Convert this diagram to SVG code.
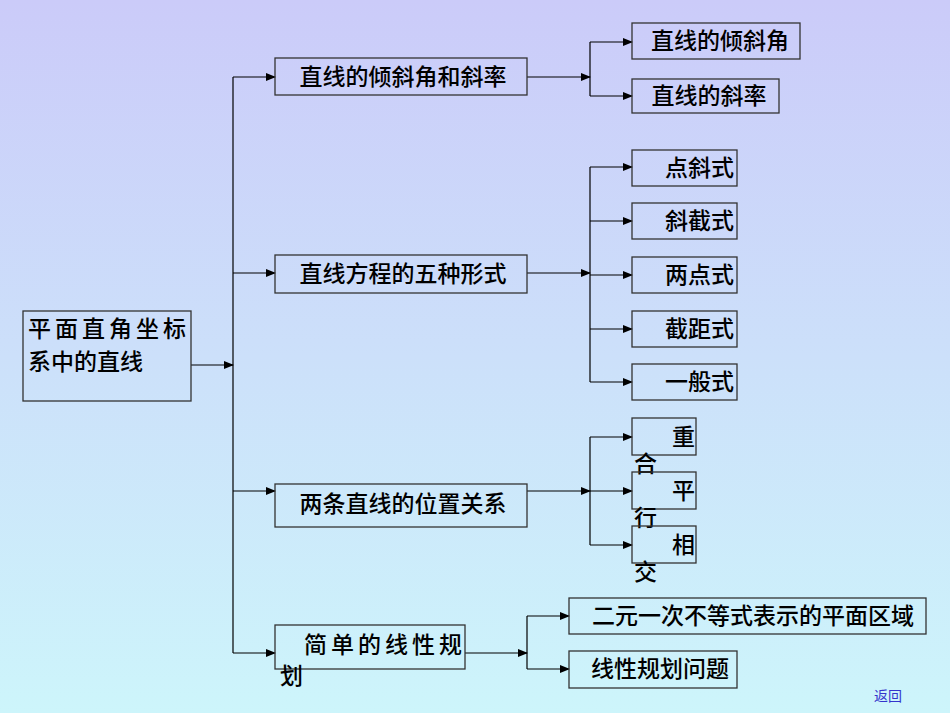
<svg xmlns="http://www.w3.org/2000/svg" width="950" height="713" viewBox="0 0 950 713">
<defs>
<linearGradient id="bg" x1="0" y1="0" x2="0" y2="1"><stop offset="0" stop-color="#cbcbf9"/><stop offset="1" stop-color="#cdf5fb"/></linearGradient>
<marker id="a" markerWidth="10" markerHeight="8" refX="9" refY="4" orient="auto" markerUnits="userSpaceOnUse"><path d="M0,0 L10,4 L0,8 Z" fill="#000"/></marker>
<style>
.b{fill:none;stroke:#333;stroke-width:1.3}
.t{font-family:"Noto Sans CJK SC","Liberation Sans",sans-serif;font-size:23px;font-weight:500;fill:#000}
.c line{stroke:#000;stroke-width:1.2}
.c .ar{marker-end:url(#a)}
</style>
</defs>
<rect width="950" height="713" fill="url(#bg)"/>
<g class="c" id="connectors">
<line class="ar" x1="191" y1="365" x2="233" y2="365"/>
<line x1="233" y1="77" x2="233" y2="653"/>
<line class="ar" x1="233" y1="77" x2="275" y2="77"/>
<line class="ar" x1="233" y1="273" x2="275" y2="273"/>
<line class="ar" x1="233" y1="491" x2="275" y2="491"/>
<line class="ar" x1="233" y1="653" x2="275" y2="653"/>
<line class="ar" x1="527" y1="77" x2="590" y2="77"/>
<line x1="590" y1="42" x2="590" y2="96"/>
<line class="ar" x1="590" y1="42" x2="632" y2="42"/>
<line class="ar" x1="590" y1="96" x2="632" y2="96"/>
<line class="ar" x1="527" y1="273" x2="590" y2="273"/>
<line x1="590" y1="167" x2="590" y2="382"/>
<line class="ar" x1="590" y1="167" x2="632" y2="167"/>
<line class="ar" x1="590" y1="221" x2="632" y2="221"/>
<line class="ar" x1="590" y1="275" x2="632" y2="275"/>
<line class="ar" x1="590" y1="329" x2="632" y2="329"/>
<line class="ar" x1="590" y1="382" x2="632" y2="382"/>
<line class="ar" x1="527" y1="491" x2="590" y2="491"/>
<line x1="590" y1="437" x2="590" y2="545"/>
<line class="ar" x1="590" y1="437" x2="632" y2="437"/>
<line class="ar" x1="590" y1="491" x2="632" y2="491"/>
<line class="ar" x1="590" y1="545" x2="632" y2="545"/>
<line class="ar" x1="465" y1="653" x2="527" y2="653"/>
<line x1="527" y1="616" x2="527" y2="669"/>
<line class="ar" x1="527" y1="616" x2="569" y2="616"/>
<line class="ar" x1="527" y1="669" x2="569" y2="669"/>
</g>
<g id="root"><rect class="b" x="23" y="311" width="168" height="90"/><text class="t" x="28" y="337" textLength="158" lengthAdjust="spacing">平面直角坐标</text><text class="t" x="28" y="370">系中的直线</text></g>
<g id="n1"><rect class="b" x="275" y="58" width="252" height="37"/><text class="t" x="403" y="85" text-anchor="middle">直线的倾斜角和斜率</text></g>
<g id="n2"><rect class="b" x="275" y="255" width="252" height="38"/><text class="t" x="403" y="282" text-anchor="middle">直线方程的五种形式</text></g>
<g id="n3"><rect class="b" x="275" y="484" width="252" height="43"/><text class="t" x="403" y="512" text-anchor="middle">两条直线的位置关系</text></g>
<g id="n4"><rect class="b" x="275" y="625" width="190" height="44"/><text class="t" x="304" y="653" textLength="158" lengthAdjust="spacing">简单的线性规</text><text class="t" x="280" y="684">划</text></g>
<g id="n11"><rect class="b" x="632" y="23" width="168" height="36"/><text class="t" x="720" y="49" text-anchor="middle">直线的倾斜角</text></g>
<g id="n12"><rect class="b" x="632" y="79" width="147" height="34"/><text class="t" x="709" y="104" text-anchor="middle">直线的斜率</text></g>
<g id="n21"><rect class="b" x="632" y="150" width="105" height="36"/><text class="t" x="734" y="176" text-anchor="end">点斜式</text></g>
<g id="n22"><rect class="b" x="632" y="203" width="105" height="36"/><text class="t" x="734" y="229" text-anchor="end">斜截式</text></g>
<g id="n23"><rect class="b" x="632" y="257" width="105" height="36"/><text class="t" x="734" y="283" text-anchor="end">两点式</text></g>
<g id="n24"><rect class="b" x="632" y="311" width="105" height="36"/><text class="t" x="734" y="337" text-anchor="end">截距式</text></g>
<g id="n25"><rect class="b" x="632" y="364" width="105" height="36"/><text class="t" x="734" y="390" text-anchor="end">一般式</text></g>
<g id="n31"><rect class="b" x="632" y="418" width="64" height="37"/><text class="t" x="695" y="445" text-anchor="end">重</text><text class="t" x="634" y="472">合</text></g>
<g id="n32"><rect class="b" x="632" y="472" width="64" height="37"/><text class="t" x="695" y="499" text-anchor="end">平</text><text class="t" x="634" y="526">行</text></g>
<g id="n33"><rect class="b" x="632" y="526" width="64" height="37"/><text class="t" x="695" y="553" text-anchor="end">相</text><text class="t" x="634" y="580">交</text></g>
<g id="n41"><rect class="b" x="569" y="598" width="357" height="36"/><text class="t" x="753" y="624" text-anchor="middle">二元一次不等式表示的平面区域</text></g>
<g id="n42"><rect class="b" x="569" y="651" width="168" height="37"/><text class="t" x="660" y="677" text-anchor="middle">线性规划问题</text></g>
<text x="888" y="701" text-anchor="middle" font-family="Noto Sans CJK SC,sans-serif" font-size="14" fill="#3333cc">返回</text>
</svg>
